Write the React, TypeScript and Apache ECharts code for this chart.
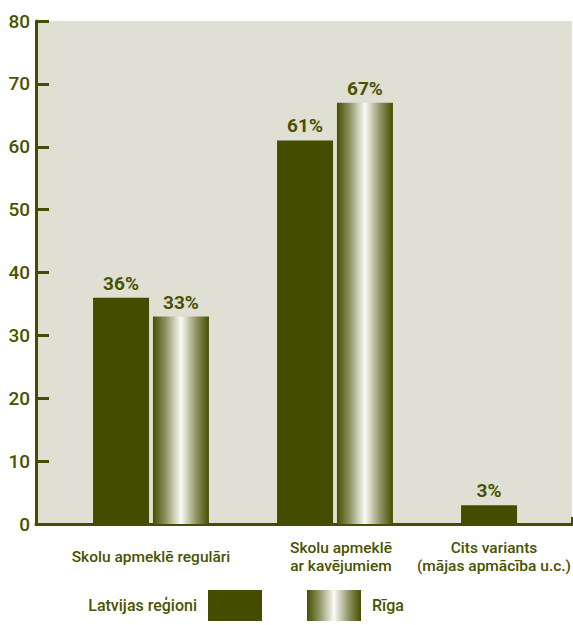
import React, { useEffect, useRef } from "react";
import * as echarts from "echarts";

const categories = [
  "Skolu apmeklē regulāri",
  "Skolu apmeklē\nar kavējumiem",
  "Cits variants\n(mājas apmācība u.c.)",
];
const seriesNames = ["Latvijas reģioni", "Rīga"];
const regionValues: (number | string)[] = [36, 61, 3];
const rigaValues: (number | string)[] = [33, 67, "-"];
const yTicks = { min: 0, max: 80, interval: 10 };

const DARK = "#444c00";
const TEXT = "#4a5200";
const BG = "#dfdfd3";
const FONT = "Roboto, 'Noto Sans', sans-serif";

const labelShift = ["a", "b", "c"];

export default function App() {
  const ref = useRef<HTMLDivElement>(null);
  useEffect(() => {
    document.body.style.margin = "0";
    const chart = echarts.init(ref.current!, undefined, { renderer: "svg" });
    const grad = new echarts.graphic.LinearGradient(0, 0, 1, 0, [
      { offset: 0, color: "#465000" },
      { offset: 0.22, color: "#8c9160" },
      { offset: 0.5, color: "#fbfbf6" },
      { offset: 0.78, color: "#8c9160" },
      { offset: 1, color: "#465000" },
    ]);
    const labelStyle = {
      show: true,
      position: "top",
      distance: 5,
      formatter: "{c}%",
      color: TEXT,
      fontSize: 19,
      fontWeight: "bold",
      fontFamily: FONT,
    };
    const catText = { fontSize: 15.5, fontWeight: 500, color: TEXT, fontFamily: FONT, lineHeight: 18 };
    chart.setOption({
      animation: false,
      backgroundColor: "#ffffff",
      textStyle: { fontFamily: FONT },
      grid: [
        {
          left: 36, right: 1, top: 21, bottom: 101,
          show: true, backgroundColor: BG, borderWidth: 0, outerBoundsMode: "none",
        },
        { left: 59, width: 552, top: 21, bottom: 101, outerBoundsMode: "none" },
      ],
      xAxis: [
        {
          type: "category",
          gridIndex: 0,
          data: [""],
          axisLine: { show: true, lineStyle: { color: DARK, width: 3 } },
          axisTick: { show: true, inside: true, length: 7, lineStyle: { color: DARK, width: 2 } },
          axisLabel: { show: false },
        },
        {
          type: "category",
          gridIndex: 1,
          data: categories,
          axisLine: { show: false },
          axisTick: { show: false },
          axisLabel: {
            interval: 0,
            hideOverlap: false,
            margin: 33,
            verticalAlign: "middle",
            formatter: (v: string, i: number) =>
              v.split("\n").map((l) => `{${labelShift[i]}|${l}}`).join("\n"),
            rich: {
              a: { ...catText, padding: [0, 0, 0, 0] },
              b: { ...catText, padding: [0, 0, 0, 12] },
              c: { ...catText, padding: [0, 50, 0, 0] },
            },
          },
        },
      ],
      yAxis: [
        {
          type: "value",
          gridIndex: 0,
          ...yTicks,
          axisLine: { show: true, lineStyle: { color: DARK, width: 3 } },
          axisTick: { show: true, inside: true, length: 13, lineStyle: { color: DARK, width: 3 } },
          axisLabel: { color: TEXT, fontSize: 19, fontWeight: 500, fontFamily: FONT, margin: 6 },
          splitLine: { show: false },
        },
        {
          type: "value",
          gridIndex: 1,
          ...yTicks,
          show: false,
        },
      ],
      legend: [
        {
          data: [seriesNames[0]],
          right: 311,
          top: 590,
          padding: 0,
          align: "right",
          icon: "rect",
          itemWidth: 54,
          itemHeight: 31,
          textStyle: { color: TEXT, fontSize: 16, fontWeight: 500, fontFamily: FONT, padding: [0, 6, 0, 0] },
          selectedMode: false,
        },
        {
          data: [seriesNames[1]],
          left: 307,
          top: 590,
          padding: 0,
          align: "left",
          icon: "rect",
          itemWidth: 54,
          itemHeight: 31,
          textStyle: { color: TEXT, fontSize: 16, fontWeight: 500, fontFamily: FONT, padding: [0, 0, 0, 6] },
          selectedMode: false,
        },
      ],
      series: [
        {
          name: seriesNames[0],
          type: "bar",
          xAxisIndex: 1,
          yAxisIndex: 1,
          data: regionValues,
          barWidth: 56,
          barGap: "7%",
          itemStyle: { color: DARK },
          label: labelStyle,
        },
        {
          name: seriesNames[1],
          type: "bar",
          xAxisIndex: 1,
          yAxisIndex: 1,
          data: rigaValues,
          barWidth: 56,
          barGap: "7%",
          itemStyle: { color: grad },
          label: labelStyle,
        },
      ],
    });
    return () => chart.dispose();
  }, []);
  return <div ref={ref} style={{ width: 573, height: 625 }} />;
}
